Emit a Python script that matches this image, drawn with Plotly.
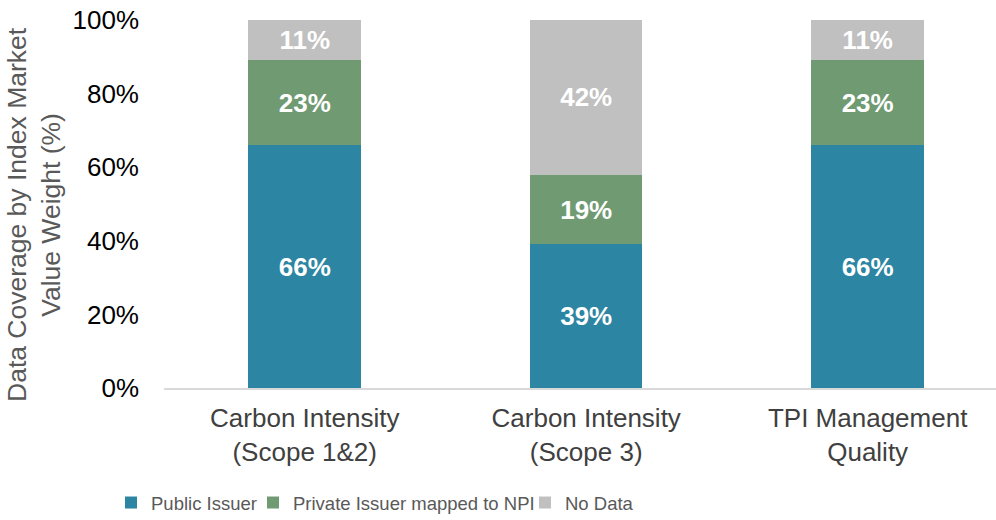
import plotly.graph_objects as go

categories = ["Carbon Intensity<br>(Scope 1&2)", "Carbon Intensity<br>(Scope 3)", "TPI Management<br>Quality"]
public_issuer = [66, 39, 66]
private_issuer = [23, 19, 23]
no_data = [11, 42, 11]
series_names = ["Public Issuer", "Private Issuer mapped to NPI", "No Data"]
colors = ["#2C85A2", "#6F9A72", "#C0C0C0"]
tick_vals = [0, 20, 40, 60, 80, 100]
tick_text = ["0%", "20%", "40%", "60%", "80%", "100%"]
y_title = "Data Coverage by Index Market<br>Value Weight (%)"

legend_ids = ["legend", "legend2", "legend3"]
legend_x = [111, 253, 525]

fig = go.Figure()
for name, vals, col, lid in zip(series_names, [public_issuer, private_issuer, no_data], colors, legend_ids):
    fig.add_trace(go.Bar(
        x=categories, y=vals, name=name,
        marker=dict(color=col, line=dict(width=0)),
        text=[f"{v}%" for v in vals],
        textposition="inside", insidetextanchor="middle",
        textangle=0,
        textfont=dict(family="Liberation Sans, Arial", size=26, color="white", weight="bold"),
        width=0.4,
        legend=lid,
    ))

legend_common = dict(
    orientation="h", xref="container", yref="container",
    xanchor="left", y=0.0327, yanchor="middle",
    font=dict(family="Liberation Sans, Arial", size=18.5, color="#595959"),
    bgcolor="rgba(0,0,0,0)",
)

fig.update_layout(
    barmode="stack",
    width=996, height=520,
    margin=dict(l=164, r=0, t=20, b=132),
    plot_bgcolor="white", paper_bgcolor="white",
    font=dict(family="Liberation Sans, Arial", size=26, color="#000000"),
    showlegend=True,
    legend=dict(x=legend_x[0] / 996, **legend_common),
    legend2=dict(x=legend_x[1] / 996, **legend_common),
    legend3=dict(x=legend_x[2] / 996, **legend_common),
    annotations=[dict(
        text=y_title, textangle=-90, showarrow=False,
        xref="paper", yref="paper",
        x=-(164 - 34) / 832, y=(388 - 215) / 368,
        xanchor="center", yanchor="middle",
        font=dict(size=26.5, color="#595959"),
    )],
)
fig.update_xaxes(
    range=[-0.5, 2.456],
    showline=True, linecolor="#D9D9D9", linewidth=2,
    showgrid=False, ticks="",
    ticklabelstandoff=6,
    tickfont=dict(size=26, color="#404040"),
)
fig.update_yaxes(
    range=[0, 100],
    tickvals=tick_vals, ticktext=tick_text,
    showgrid=False, zeroline=False, showline=False,
    ticklabelstandoff=24,
    tickfont=dict(size=26, color="#000000"),
)

fig.write_html("out.html")
